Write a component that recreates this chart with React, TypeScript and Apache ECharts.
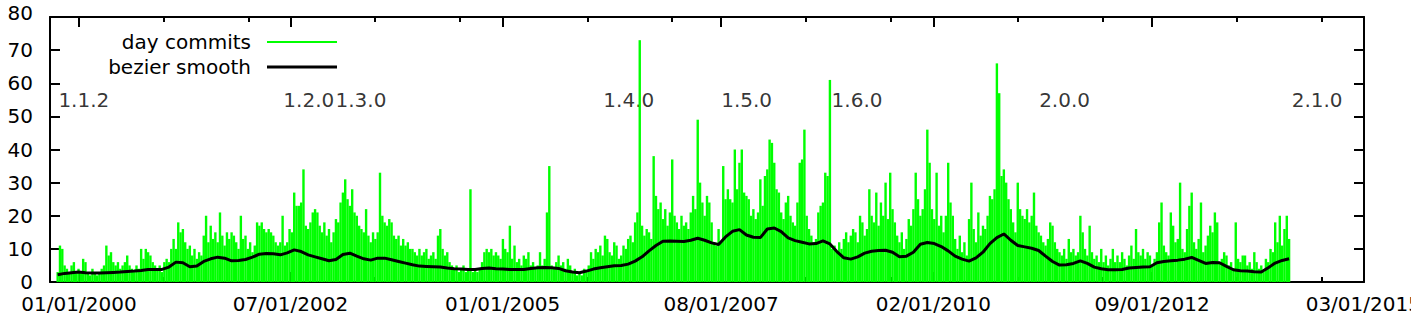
import React, { useEffect, useRef } from 'react';
import * as echarts from 'echarts';

const FONT = 'DejaVu Sans';

// ---- time frame ----
const START_DATE = '1999-10-01';
const COMMIT_STEP_DAYS = 10;
const SMOOTH_STEP_DAYS = 30;
const X_MIN_DATE = '1999-08-29';
const X_MAX_DATE = '2015-03-04';

// ---- day commits (peak per 10-day window) ----
const dayCommits = [
  3, 11, 10, 5, 4, 3, 5, 6, 3, 4,
  3, 7, 6, 3, 2, 4, 3, 2, 3, 4,
  5, 11, 8, 9, 6, 5, 6, 4, 5, 6,
  8, 5, 4, 3, 5, 4, 10, 7, 10, 9,
  8, 6, 5, 4, 5, 3, 6, 7, 6, 10,
  13, 10, 18, 15, 16, 12, 10, 11, 8, 10,
  7, 9, 8, 14, 20, 12, 17, 13, 15, 12,
  21, 14, 11, 15, 13, 15, 14, 12, 10, 20,
  13, 14, 10, 12, 9, 11, 18, 17, 18, 16,
  15, 16, 15, 14, 12, 11, 12, 20, 11, 12,
  16, 15, 27, 23, 23, 24, 34, 17, 16, 18,
  21, 22, 21, 17, 15, 18, 14, 16, 12, 15,
  19, 18, 24, 27, 31, 25, 23, 28, 21, 20,
  17, 16, 15, 22, 14, 12, 15, 13, 15, 33,
  20, 18, 17, 19, 18, 14, 13, 14, 11, 13,
  11, 12, 10, 10, 9, 8, 10, 8, 9, 10,
  7, 8, 9, 7, 14, 16, 10, 8, 9, 6,
  5, 4, 5, 3, 4, 5, 3, 4, 28, 3,
  4, 3, 4, 6, 9, 10, 9, 10, 8, 9,
  8, 7, 13, 10, 9, 17, 7, 11, 6, 7,
  5, 8, 7, 9, 5, 6, 4, 5, 9, 5,
  7, 21, 35, 5, 4, 6, 8, 5, 6, 4,
  7, 5, 3, 4, 2, 3, 2, 4, 3, 5,
  9, 7, 10, 9, 11, 8, 14, 13, 9, 8,
  12, 11, 7, 8, 11, 10, 13, 14, 12, 18,
  21, 73, 17, 14, 16, 15, 13, 38, 26, 22,
  24, 19, 22, 17, 21, 37, 20, 18, 16, 20,
  17, 18, 16, 21, 26, 22, 49, 30, 24, 20,
  26, 24, 18, 12, 11, 16, 12, 35, 25, 28,
  25, 24, 40, 28, 36, 40, 27, 26, 25, 20,
  22, 19, 21, 31, 23, 32, 34, 43, 42, 36,
  28, 27, 21, 19, 24, 26, 20, 18, 17, 24,
  36, 37, 46, 20, 16, 14, 12, 13, 21, 23,
  24, 33, 32, 61, 10, 11, 9, 12, 10, 13,
  15, 12, 14, 16, 15, 12, 20, 18, 14, 16,
  28, 20, 18, 27, 17, 24, 20, 30, 19, 33,
  22, 18, 14, 12, 15, 10, 13, 19, 17, 22,
  33, 25, 20, 22, 28, 46, 36, 22, 19, 33,
  17, 20, 15, 20, 36, 24, 20, 13, 10, 14,
  9, 12, 8, 19, 30, 16, 12, 21, 14, 17,
  16, 20, 26, 25, 28, 66, 57, 32, 34, 30,
  25, 22, 18, 15, 30, 22, 20, 19, 22, 18,
  20, 27, 17, 15, 14, 12, 11, 13, 18, 17,
  12, 10, 9, 8, 10, 7, 13, 9, 10, 8,
  9, 20, 15, 10, 8, 17, 9, 7, 8, 6,
  10, 6, 8, 5, 7, 10, 6, 8, 6, 9,
  7, 5, 8, 11, 7, 16, 9, 8, 10, 7,
  9, 8, 5, 7, 9, 18, 24, 11, 9, 8,
  21, 17, 12, 13, 30, 10, 9, 16, 23, 27,
  12, 10, 13, 24, 9, 11, 14, 17, 15, 21,
  18, 6, 7, 9, 8, 5, 6, 4, 18, 7,
  6, 8, 8, 5, 6, 4, 9, 6, 4, 5,
  3, 7, 6, 10, 9, 18, 12, 20, 11, 16,
  20, 13,
];

// ---- bezier smooth (every 30 days) ----
const bezierSmooth = [
  2.2, 2.6, 2.8, 3.0, 2.8, 2.7, 2.7, 2.8, 2.9, 3.0,
  3.2, 3.3, 3.5, 3.8, 3.8, 3.8, 4.5, 6.0, 5.8, 4.6,
  4.8, 6.2, 7.0, 7.5, 7.2, 6.4, 6.5, 6.8, 7.5, 8.4,
  8.6, 8.5, 8.2, 8.8, 9.7, 9.2, 8.2, 7.6, 7.0, 6.4,
  6.8, 8.3, 8.7, 7.8, 7.0, 6.6, 7.2, 7.2, 6.7, 6.2,
  5.7, 5.2, 4.8, 4.7, 4.6, 4.5, 4.2, 4.0, 3.9, 3.8,
  3.8, 4.1, 4.2, 4.0, 3.9, 3.8, 3.8, 3.8, 4.1, 4.3,
  4.4, 4.3, 4.1, 3.4, 3.0, 2.8, 3.3, 3.9, 4.3, 4.6,
  4.9, 5.0, 5.4, 6.3, 7.6, 9.4, 11.0, 12.3, 12.4, 12.3,
  12.2, 12.6, 13.2, 12.6, 11.8, 11.3, 13.6, 15.3, 15.8, 14.2,
  13.5, 13.4, 16.0, 16.3, 15.2, 13.3, 12.5, 12.0, 11.5, 11.6,
  12.4, 11.5, 9.2, 7.3, 6.9, 7.6, 8.7, 9.3, 9.5, 9.6,
  9.0, 7.6, 7.8, 9.0, 11.4, 11.9, 11.6, 10.7, 9.4, 7.8,
  6.9, 6.3, 7.3, 9.0, 11.6, 13.4, 14.5, 12.6, 11.0, 10.6,
  10.2, 9.5, 7.8, 6.2, 5.1, 5.2, 5.6, 6.4, 5.6, 4.5,
  4.0, 3.7, 3.7, 3.8, 4.2, 4.4, 4.5, 4.6, 5.8, 6.2,
  6.4, 6.6, 6.9, 7.4, 6.5, 5.6, 5.9, 5.8, 4.7, 3.7,
  3.4, 3.3, 3.1, 3.0, 4.3, 5.7, 6.5, 7.0,
];

// ---- release labels ----
const releaseNames = ['1.1.2', '1.2.0', '1.3.0', '1.4.0', '1.5.0', '1.6.0', '2.0.0', '2.1.0'];
const releaseDates = [
  '1999-10-02', '2002-05-29', '2003-01-09', '2006-03-09',
  '2007-07-30', '2008-11-17', '2011-05-01', '2014-04-24',
];
const RELEASE_LABEL_Y = 55;

// ---- axes ----
const xMajorTickDates = ['2000-01-01', '2002-07-01', '2005-01-01', '2007-08-01', '2010-02-01', '2012-09-01', '2015-03-01'];
const xMinorTickDates = [
  '2001-01-01', '2002-01-01', '2003-07-01', '2004-07-01', '2006-01-01', '2007-01-01',
  '2008-08-01', '2009-08-01', '2011-02-01', '2012-02-01', '2013-09-01', '2014-09-01',
];
const Y_MIN = 0;
const Y_MAX = 80;
const Y_STEP = 10;

const DAY_MS = 86400000;
const toTs = (s: string) => {
  const [y, m, d] = s.split('-').map(Number);
  return Date.UTC(y, m - 1, d);
};
const pad = (n: number) => (n < 10 ? '0' : '') + n;
const fmtDate = (v: number) => {
  const d = new Date(v);
  return `${pad(d.getUTCMonth() + 1)}/${pad(d.getUTCDate())}/${d.getUTCFullYear()}`;
};

export default function App() {
  const ref = useRef<HTMLDivElement>(null);

  useEffect(() => {
    if (!ref.current) return;
    const chart = echarts.init(ref.current, undefined, { renderer: 'svg' });
    const start = toTs(START_DATE);
    const xMin = toTs(X_MIN_DATE);
    const xMax = toTs(X_MAX_DATE);
    const major = xMajorTickDates.map(toTs);
    const minor = xMinorTickDates.map(toTs);

    const axisLineStyle = { color: '#000', width: 2 };
    const xAxisBase = (position: string) => ({
      type: 'value',
      min: xMin,
      max: xMax,
      position,
      splitLine: { show: false },
      axisPointer: { show: false },
    });
    const legendText = {
      fontFamily: FONT,
      fontSize: 20,
      color: '#000',
      lineHeight: 20,
      padding: [0, 11, 0, 0],
    };

    const option: any = {
      animation: false,
      backgroundColor: '#fff',
      grid: {
        left: 50,
        right: 47,
        top: 17,
        bottom: 39,
        containLabel: false,
        outerBoundsMode: 'none',
      },
      legend: [
        {
          data: ['day commits'],
          right: 1074,
          top: 32,
          padding: 0,
          align: 'right',
          icon: 'rect',
          itemWidth: 70,
          itemHeight: 2,
          itemStyle: { borderWidth: 0 },
          selectedMode: false,
          textStyle: legendText,
        },
        {
          data: ['bezier smooth'],
          right: 1074,
          top: 57,
          padding: 0,
          align: 'right',
          icon: 'rect',
          itemWidth: 70,
          itemHeight: 3,
          itemStyle: { borderWidth: 0 },
          selectedMode: false,
          textStyle: legendText,
        },
      ],
      xAxis: [
        {
          ...xAxisBase('bottom'),
          axisLine: { show: true, onZero: false, lineStyle: axisLineStyle },
          axisTick: { show: true, inside: true, length: 10, customValues: major, lineStyle: axisLineStyle },
          axisLabel: {
            show: true,
            customValues: major,
            formatter: (v: number) => fmtDate(v),
            fontFamily: FONT,
            fontSize: 20,
            color: '#000',
            margin: 12,
            hideOverlap: false,
          },
        },
        {
          ...xAxisBase('top'),
          axisLine: { show: true, onZero: false, lineStyle: axisLineStyle },
          axisTick: { show: true, inside: true, length: 10, customValues: major, lineStyle: axisLineStyle },
          axisLabel: { show: false },
        },
        {
          ...xAxisBase('bottom'),
          axisLine: { show: false, onZero: false },
          axisTick: { show: true, inside: true, length: 5, customValues: minor, lineStyle: axisLineStyle },
          axisLabel: { show: false },
        },
        {
          ...xAxisBase('top'),
          axisLine: { show: false, onZero: false },
          axisTick: { show: true, inside: true, length: 5, customValues: minor, lineStyle: axisLineStyle },
          axisLabel: { show: false },
        },
      ],
      yAxis: [
        {
          type: 'value',
          position: 'left',
          min: Y_MIN,
          max: Y_MAX,
          interval: Y_STEP,
          splitLine: { show: false },
          axisLine: { show: true, onZero: false, lineStyle: axisLineStyle },
          axisTick: { show: true, inside: true, length: 10, lineStyle: axisLineStyle },
          axisLabel: {
            fontFamily: FONT,
            fontSize: 20,
            color: '#000',
            margin: 17,
            formatter: (v: number) => (v === Y_MAX ? `{top|${v}}` : `${v}`),
            rich: {
              top: { fontFamily: FONT, fontSize: 20, color: '#000', padding: [0, 0, 9, 0] },
            },
          },
        },
        {
          type: 'value',
          position: 'right',
          min: Y_MIN,
          max: Y_MAX,
          interval: Y_STEP,
          splitLine: { show: false },
          axisLine: { show: true, onZero: false, lineStyle: axisLineStyle },
          axisTick: { show: true, inside: true, length: 10, lineStyle: axisLineStyle },
          axisLabel: { show: false },
        },
      ],
      series: [
        {
          type: 'scatter',
          name: 'releases',
          xAxisIndex: 0,
          yAxisIndex: 0,
          z: 1,
          silent: true,
          symbolSize: 1,
          itemStyle: { color: 'rgba(0,0,0,0)' },
          data: releaseNames.map((name, k) => ({ name, value: [toTs(releaseDates[k]), RELEASE_LABEL_Y] })),
          label: {
            show: true,
            position: 'right',
            distance: 0,
            formatter: '{b}',
            fontFamily: FONT,
            fontSize: 20,
            color: '#000',
          },
        },
        {
          type: 'bar',
          name: 'day commits',
          xAxisIndex: 0,
          yAxisIndex: 0,
          z: 2,
          barWidth: 2.4,
          color: '#00ff00',
          itemStyle: { color: '#00ff00' },
          data: dayCommits.map((v, i) => [start + i * COMMIT_STEP_DAYS * DAY_MS, v]),
        },
        {
          type: 'line',
          name: 'bezier smooth',
          xAxisIndex: 0,
          yAxisIndex: 0,
          z: 3,
          color: '#000',
          showSymbol: false,
          symbol: 'none',
          lineStyle: { color: '#000', width: 3 },
          data: bezierSmooth.map((v, j) => [start + j * SMOOTH_STEP_DAYS * DAY_MS, v]),
        },
      ],
    };

    chart.setOption(option);
    return () => chart.dispose();
  }, []);

  return (
    <div
      ref={ref}
      style={{ position: 'fixed', left: 0, top: 0, width: 1411, height: 321, background: '#fff' }}
    />
  );
}
